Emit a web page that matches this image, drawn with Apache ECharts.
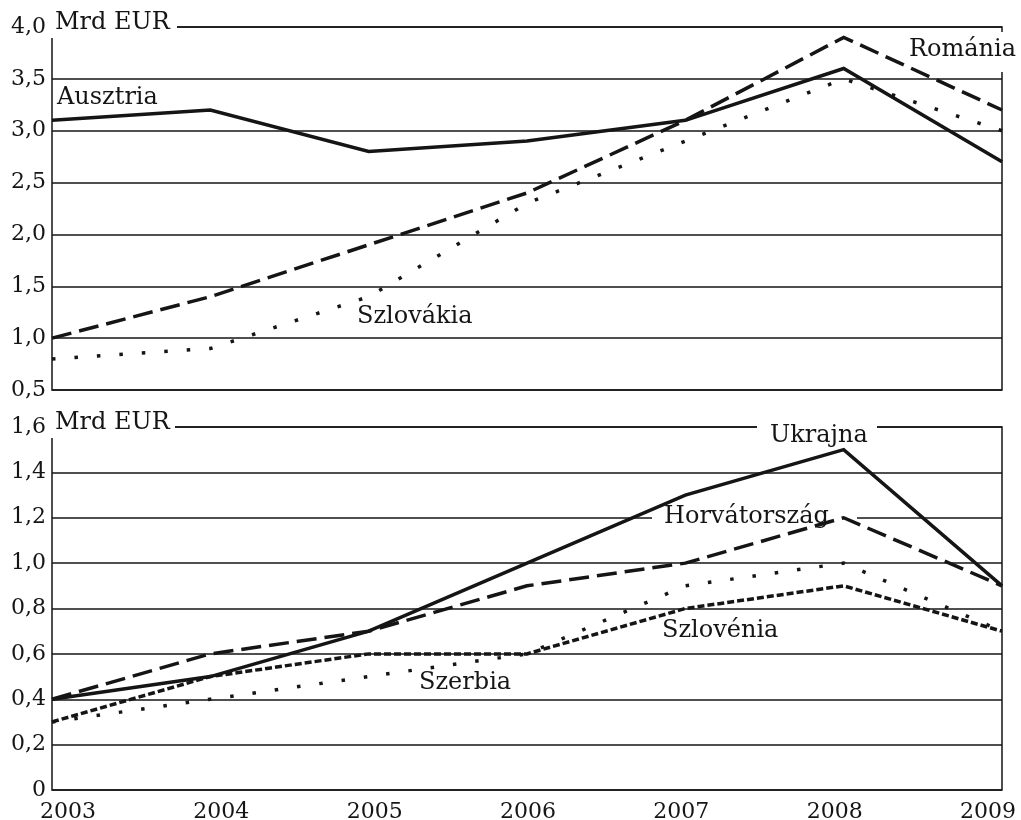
<!DOCTYPE html>
<html>
<head>
<meta charset="utf-8">
<script src="https://cdn.jsdelivr.net/npm/echarts@6/dist/echarts.min.js"></script>
<style>
html,body{margin:0;padding:0;background:#fff;}
#chart{width:1021px;height:820px;}
</style>
</head>
<body>
<div id="chart"></div>
<script>
var years = ['2003', '2004', '2005', '2006', '2007', '2008', '2009'];
var yearTicks = [2003, 2004, 2005, 2006, 2007, 2008, 2009];
// top panel (Mrd EUR)
var ausztria = [3.1, 3.2, 2.8, 2.9, 3.1, 3.6, 2.7];
var romania = [1.0, 1.4, 1.9, 2.4, 3.1, 3.9, 3.2];
var szlovakia = [0.8, 0.9, 1.4, 2.3, 2.9, 3.5, 3.0];
// bottom panel (Mrd EUR)
var ukrajna = [0.4, 0.5, 0.7, 1.0, 1.3, 1.5, 0.9];
var horvatorszag = [0.4, 0.6, 0.7, 0.9, 1.0, 1.2, 0.9];
var szlovenia = [0.3, 0.5, 0.6, 0.6, 0.8, 0.9, 0.7];
var szerbia = [0.3, 0.4, 0.5, 0.6, 0.9, 1.0, 0.7];
var unitLabel = 'Mrd EUR';

var INK = '#151515';
var FONT = '"DejaVu Serif", "Liberation Serif", serif';
var FS = 22;   // axis tick labels
var LFS = 24;  // series / unit labels

function fmt(v) {
  if (v === 0) return '0';
  return v.toFixed(1).replace('.', ',');
}

var SOLID = 'solid';
var LONGDASH = [20, 8];
var DOTS = [3.5, 19];
var SHORTDASH = [7, 3];

function line(name, data, type, gi, w) {
  return {
    name: name, type: 'line', data: data,
    xAxisIndex: gi, yAxisIndex: gi,
    showSymbol: false, symbol: 'none', silent: true, z: 2,
    lineStyle: { color: INK, width: w || 3.5, type: type, cap: 'butt', join: 'miter' }
  };
}

function yAx(gi, min, max, interval) {
  return {
    type: 'value', gridIndex: gi, min: min, max: max, interval: interval,
    axisLine: { show: false }, axisTick: { show: false },
    splitLine: { show: true, lineStyle: { color: INK, width: 1.5 } },
    axisLabel: { formatter: fmt, color: INK, fontFamily: FONT, fontSize: FS, margin: 6 }
  };
}

function xAx(gi) {
  return {
    type: 'category', gridIndex: gi, data: years, boundaryGap: false,
    axisLine: { show: false }, axisTick: { show: false },
    axisLabel: { show: false }, splitLine: { show: false }
  };
}

function txt(s, x, y) {
  return { type: 'text', x: x, y: y, z: 1.5, silent: true,
    style: { text: s, font: LFS + 'px ' + FONT, fill: INK,
      textAlign: 'left', textVerticalAlign: 'middle', align: 'left', verticalAlign: 'middle' } };
}
function blank(x, y, w, h) {
  return { type: 'rect', z: 1, silent: true, shape: { x: x, y: y, width: w, height: h },
    style: { fill: '#ffffff', stroke: null } };
}

var chart = echarts.init(document.getElementById('chart'), null, { renderer: 'canvas' });
chart.setOption({
  animation: false,
  backgroundColor: '#ffffff',
  grid: [
    { left: 52, right: 19, top: 27, height: 363, show: true, borderColor: INK, borderWidth: 1.5, backgroundColor: 'transparent' },
    { left: 52, right: 19, top: 427, height: 363, show: true, borderColor: INK, borderWidth: 1.5, backgroundColor: 'transparent' },
    { left: 68, right: 33, top: 790, height: 1, show: false }
  ],
  xAxis: [
    xAx(0), xAx(1),
    { type: 'value', gridIndex: 2, min: yearTicks[0], max: yearTicks[yearTicks.length - 1], interval: 1,
      axisLine: { show: false }, axisTick: { show: false }, splitLine: { show: false },
      axisLabel: { color: INK, fontFamily: FONT, fontSize: FS, margin: 11, formatter: function (v) { return String(v); } } }
  ],
  yAxis: [
    yAx(0, 0.5, 4.0, 0.5),
    yAx(1, 0, 1.6, 0.2),
    { type: 'value', gridIndex: 2, show: false, min: 0, max: 1 }
  ],
  series: [
    line('Ausztria', ausztria, SOLID, 0),
    line('Románia', romania, LONGDASH, 0),
    line('Szlovákia', szlovakia, DOTS, 0),
    line('Ukrajna', ukrajna, SOLID, 1),
    line('Horvátország', horvatorszag, LONGDASH, 1),
    line('Szlovénia', szlovenia, SHORTDASH, 1),
    line('Szerbia', szerbia, DOTS, 1)
  ],
  graphic: [
    blank(50, 8, 127, 30),
    blank(50, 408, 125, 30),
    blank(905, 32, 116, 40),
    blank(757, 420, 120, 14),
    blank(652, 512, 205, 12),
    txt(unitLabel, 55, 23),
    txt(unitLabel, 55, 423),
    txt('Ausztria', 57, 98),
    txt('Szlovákia', 357, 317),
    txt('Románia', 909, 50),
    txt('Ukrajna', 770, 436),
    txt('Horvátország', 664, 517),
    txt('Szlovénia', 662, 631),
    txt('Szerbia', 419, 683)
  ]
});
</script>
</body>
</html>
